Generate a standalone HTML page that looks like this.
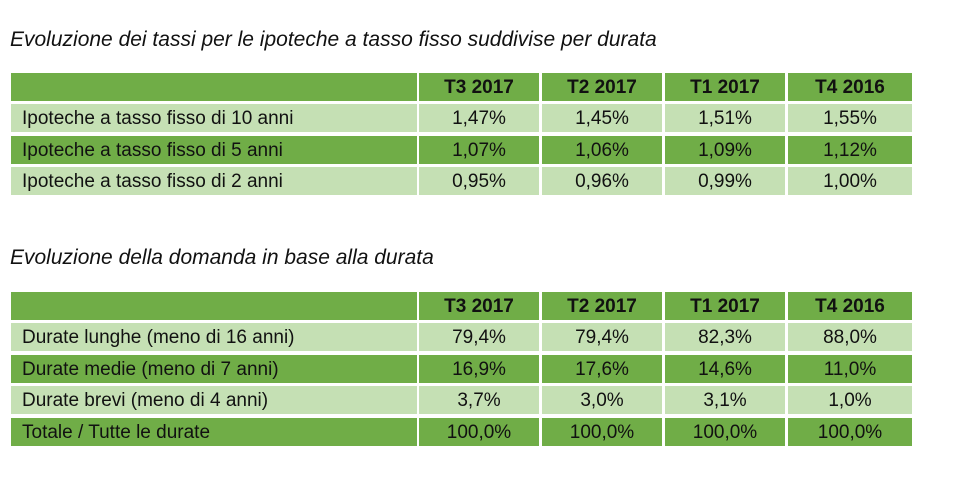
<!DOCTYPE html>
<html><head><meta charset="utf-8"><style>
body{margin:0;width:953px;height:503px;background:#fff;font-family:"Liberation Sans",Arial,sans-serif;position:relative;overflow:hidden}
.t{position:absolute;left:10px;font-style:italic;font-size:21px;color:#111;white-space:nowrap}
.r{position:absolute;left:11px;height:28px}
.c{position:absolute;top:0;height:28px;line-height:29px;font-size:19px;color:#111;text-align:center;white-space:nowrap}
.d{background:#70ad47}.l{background:#c5e0b4}
.h{font-weight:bold}
</style></head><body>
<div class="t" style="top:28px">Evoluzione dei tassi per le ipoteche a tasso fisso suddivise per durata</div>
<div class="t" style="top:246px">Evoluzione della domanda in base alla durata</div>
<div id="a"></div>
<script>
function tbl(top,rows){let h='';rows.forEach((r,i)=>{const y=Math.round(top+i*31.4);const cls=r[0];
const xs=[[0,406],[408,120],[531,120],[654,120],[777,124]];
h+=`<div class="r" style="top:${y}px">`;
r[1].forEach((v,j)=>{let c=(i==0)?'d':cls;h+=`<div class="c ${c} ${i==0?'h':''}" style="left:${xs[j][0]}px;width:${xs[j][1]}px;${j==0?'text-align:left;padding-left:11px;box-sizing:border-box':''}">${v}</div>`});
h+='</div>'});return h}
document.getElementById('a').innerHTML=
tbl(73,[['d',['','T3 2017','T2 2017','T1 2017','T4 2016']],
['l',['Ipoteche a tasso fisso di 10 anni','1,47%','1,45%','1,51%','1,55%']],
['d',['Ipoteche a tasso fisso di 5 anni','1,07%','1,06%','1,09%','1,12%']],
['l',['Ipoteche a tasso fisso di 2 anni','0,95%','0,96%','0,99%','1,00%']]])+
tbl(292,[['d',['','T3 2017','T2 2017','T1 2017','T4 2016']],
['l',['Durate lunghe (meno di 16 anni)','79,4%','79,4%','82,3%','88,0%']],
['d',['Durate medie (meno di 7 anni)','16,9%','17,6%','14,6%','11,0%']],
['l',['Durate brevi (meno di 4 anni)','3,7%','3,0%','3,1%','1,0%']],
['d',['Totale / Tutte le durate','100,0%','100,0%','100,0%','100,0%']]]);
</script>
</body></html>
